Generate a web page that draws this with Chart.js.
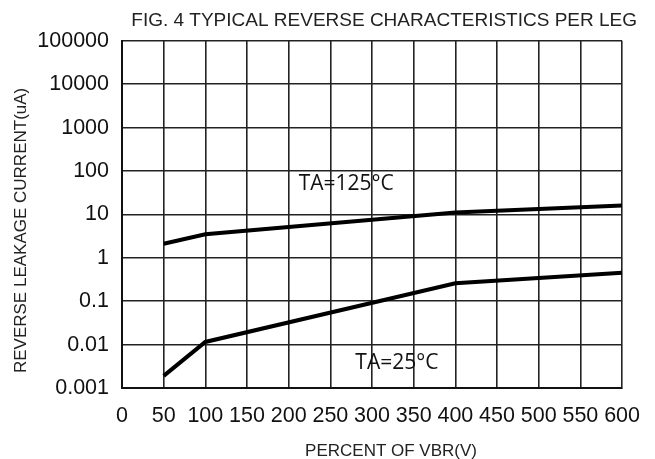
<!DOCTYPE html>
<html>
<head>
<meta charset="utf-8">
<script src="https://cdn.jsdelivr.net/npm/chart.js@4/dist/chart.umd.min.js"></script>
<style>
  body { margin: 0; background: #fff; }
  #wrap { width: 655px; height: 459px; }
</style>
</head>
<body>
<div id="wrap"><canvas id="leakChart"></canvas></div>
<script>
const xValues = [50, 100, 400, 600];
const hotValues = [2.1, 3.5, 11, 16];        // TA=125°C
const roomValues = [0.0019, 0.0115, 0.26, 0.45]; // TA=25°C
const yTicks = [0.001, 0.01, 0.1, 1, 10, 100, 1000, 10000, 100000];

const labelTexts = ['TA=125°C', 'TA=25°C'];
const labelX = [212, 280];
const labelY = [50, 0.0038];

const xTitle = 'PERCENT OF VBR(V)';
const yTitle = 'REVERSE LEAKAGE CURRENT(uA)';

const fontFamily = '"Liberation Sans", Arial, sans-serif';

function toPoints(ys) {
    return xValues.map(function(x, i) { return { x: x, y: ys[i] }; });
}

// curve labels and the two axis titles
const extraText = {
    id: 'extraText',
    afterDatasetsDraw: function(chart) {
        const c = chart.ctx;
        const xs = chart.scales.x;
        const ys = chart.scales.y;
        const area = chart.chartArea;
        c.save();
        c.fillStyle = '#111';
        c.font = '21px "Open Sans", sans-serif';
        c.textAlign = 'left';
        c.textBaseline = 'middle';
        labelTexts.forEach(function(t, i) {
            c.fillText(t, xs.getPixelForValue(labelX[i]), ys.getPixelForValue(labelY[i]));
        });

        c.fillStyle = '#222';
        c.font = '17px ' + fontFamily;
        c.textAlign = 'center';
        c.fillText(xTitle, (area.left + area.right) / 2 + 19, 451);

        c.translate(21, (area.top + area.bottom) / 2 + 16);
        c.rotate(-Math.PI / 2);
        c.fillText(yTitle, 0, 0);
        c.restore();
    }
};

const ctx = document.getElementById('leakChart').getContext('2d');
const chart = new Chart(ctx, {
    type: 'line',
    data: {
        datasets: [{
            label: 'TA=125°C',
            data: toPoints(hotValues),
            borderColor: '#000',
            borderWidth: 4,
            pointRadius: 0,
            tension: 0
        }, {
            label: 'TA=25°C',
            data: toPoints(roomValues),
            borderColor: '#000',
            borderWidth: 4,
            pointRadius: 0,
            tension: 0
        }]
    },
    options: {
        responsive: true,
        maintainAspectRatio: false,
        animation: false,
        layout: {
            padding: { left: 6, right: 18, top: 0, bottom: 2 }
        },
        plugins: {
            legend: { display: false },
            tooltip: { enabled: false },
            title: {
                display: true,
                text: 'FIG. 4 TYPICAL REVERSE CHARACTERISTICS PER LEG',
                align: 'end',
                color: '#222',
                font: { family: fontFamily, size: 19, weight: 'normal' },
                padding: { top: 9, bottom: 9 }
            }
        },
        scales: {
            x: {
                type: 'linear',
                min: 0,
                max: 600,
                ticks: {
                    stepSize: 50,
                    color: '#111',
                    padding: 15,
                    maxRotation: 0,
                    autoSkip: false,
                    font: { family: fontFamily, size: 21.5 }
                },
                grid: { color: '#222', lineWidth: 1.6, drawTicks: false },
                border: { color: '#111', width: 2 },
                afterFit: function(scale) { scale.height = 69; }
            },
            y: {
                type: 'logarithmic',
                min: 0.001,
                max: 100000,
                afterBuildTicks: function(scale) {
                    scale.ticks = yTicks.map(function(v) { return { value: v }; });
                },
                ticks: {
                    color: '#111',
                    padding: 13,
                    font: { family: fontFamily, size: 21.5 },
                    callback: function(v) { return String(v); }
                },
                grid: { color: '#222', lineWidth: 1.6, drawTicks: false },
                border: { color: '#111', width: 2 },
                afterFit: function(scale) { scale.width = 116; }
            },
            // empty strip on the right so the title can run past the plot edge
            spacer: {
                type: 'linear',
                position: 'right',
                ticks: { display: false },
                grid: { drawOnChartArea: false, drawTicks: false },
                border: { display: false },
                afterFit: function(scale) { scale.width = 12; }
            }
        }
    },
    plugins: [extraText]
});
</script>
</body>
</html>
